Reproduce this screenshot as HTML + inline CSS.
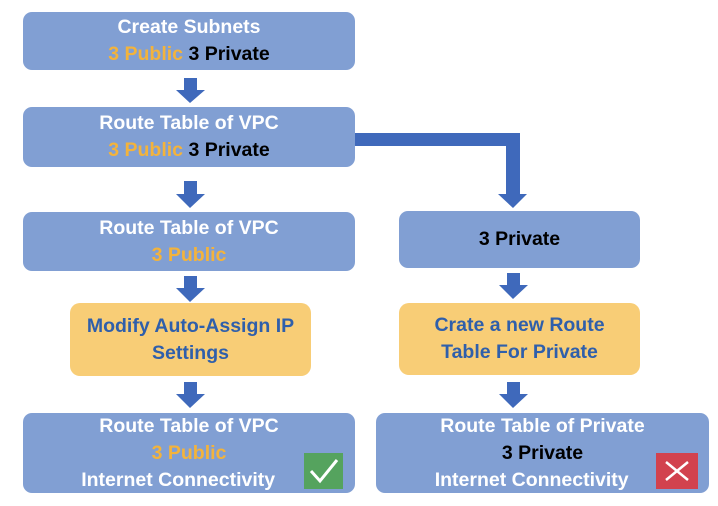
<!DOCTYPE html>
<html><head><style>
html,body{margin:0;padding:0;background:#fff;}
body{width:718px;height:506px;position:relative;overflow:hidden;font-family:"Liberation Sans",sans-serif;font-weight:bold;font-size:19.5px;}
.b{position:absolute;background:#819fd3;border-radius:9px;color:#fff;text-align:center;display:flex;flex-direction:column;justify-content:center;line-height:27px;}
.y{background:#f8cd76;color:#2f5fab;border-radius:10px;}
.o{color:#f3b33c}.k{color:#000}
svg{position:absolute;left:0;top:0}
</style></head><body>
<svg width="718" height="506">
<g fill="#3f69bb">
<rect x="184" y="78" width="13" height="13"/><polygon points="176,90 205,90 190,103"/>
<rect x="184" y="181" width="13" height="14"/><polygon points="176,194 205,194 190,208"/>
<rect x="184" y="276" width="13" height="13"/><polygon points="176,288 205,288 190,302"/>
<rect x="184" y="382" width="13" height="13"/><polygon points="176,394 205,394 190,408"/>
<rect x="507" y="273" width="13" height="13"/><polygon points="499,285 528,285 513,299"/>
<rect x="507" y="382" width="13" height="13"/><polygon points="499,394 528,394 513,408"/>
<polygon points="355,133 520,133 520,194 527,194 513,208 498,194 506,194 506,146 355,146"/>
</g>
</svg>
<div class="b" style="left:23px;top:12px;width:332px;height:58px;"><div>Create Subnets</div><div><span class="o">3 Public</span> <span class="k">3 Private</span></div></div>
<div class="b" style="left:23px;top:107px;width:332px;height:60px;"><div>Route Table of VPC</div><div><span class="o">3 Public</span> <span class="k">3 Private</span></div></div>
<div class="b" style="left:23px;top:212px;width:332px;height:59px;"><div>Route Table of VPC</div><div class="o">3 Public</div></div>
<div class="b" style="left:399px;top:211px;width:241px;height:57px;"><div class="k">3 Private</div></div>
<div class="b y" style="left:70px;top:303px;width:241px;height:73px;"><div>Modify Auto-Assign IP</div><div>Settings</div></div>
<div class="b y" style="left:399px;top:303px;width:241px;height:72px;"><div>Crate a new Route</div><div>Table For Private</div></div>
<div class="b" style="left:23px;top:413px;width:332px;height:80px;"><div>Route Table of VPC</div><div class="o">3 Public</div><div>Internet Connectivity&nbsp;&nbsp;&nbsp;&nbsp;</div></div>
<div class="b" style="left:376px;top:413px;width:333px;height:80px;"><div>Route Table of Private</div><div class="k">3 Private</div><div>Internet Connectivity&nbsp;&nbsp;&nbsp;&nbsp;</div></div>
<svg width="718" height="506">
<rect x="304" y="453" width="39" height="36" fill="#55a35e"/>
<polyline points="311,471 320,481 337,460" fill="none" stroke="#fff" stroke-width="3"/>
<rect x="656" y="453" width="42" height="36" fill="#d2424e"/>
<path d="M666,462 L688,480 M688,462 L666,480" stroke="#fff" stroke-width="2.5"/>
</svg>
</body></html>
